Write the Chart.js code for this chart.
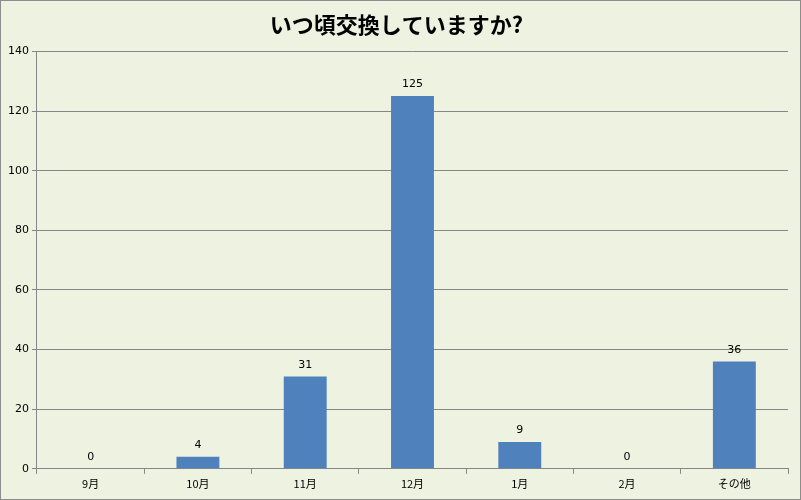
<!DOCTYPE html>
<html>
<head>
<meta charset="utf-8">
<script src="https://cdn.jsdelivr.net/npm/chart.js@4"></script>
<style>
  html, body { margin: 0; padding: 0; background: #fff; }
  #wrap { width: 799px; height: 498px; border: 1px solid #8c8c8c; background: #eef2e1; }
</style>
</head>
<body>
<div id="wrap"><canvas id="c" width="799" height="498"></canvas></div>
<script>
const categories = ["9月", "10月", "11月", "12月", "1月", "2月", "その他"];
const counts = [0, 4, 31, 125, 9, 0, 36];
const yTicks = [0, 20, 40, 60, 80, 100, 120, 140];

// value labels above each bar
const barLabels = {
  id: 'barLabels',
  afterDatasetsDraw(chart) {
    const ctx = chart.ctx;
    const meta = chart.getDatasetMeta(0);
    ctx.save();
    ctx.font = '11px "DejaVu Sans", sans-serif';
    ctx.fillStyle = '#000';
    ctx.textAlign = 'center';
    ctx.textBaseline = 'bottom';
    meta.data.forEach((bar, i) => {
      ctx.fillText(counts[i], bar.x, bar.y - 6);
    });
    ctx.restore();
  }
};

new Chart(document.getElementById('c').getContext('2d'), {
  type: 'bar',
  data: {
    labels: categories,
    datasets: [{
      data: counts,
      backgroundColor: '#4f81bd',
      categoryPercentage: 1,
      barPercentage: 0.4
    }]
  },
  options: {
    responsive: false,
    animation: false,
    layout: { padding: { left: 4, right: 12, top: 0, bottom: 6 } },
    plugins: {
      legend: { display: false },
      tooltip: { enabled: false },
      title: {
        display: true,
        text: 'いつ頃交換していますか?',
        color: '#000',
        font: { family: '"Noto Sans CJK JP", sans-serif', size: 22, weight: 'bold' },
        padding: { top: 10, bottom: 14 }
      }
    },
    scales: {
      x: {
        grid: { display: true, drawOnChartArea: false, color: '#868686', tickLength: 5, offset: true },
        border: { color: '#868686' },
        ticks: { color: '#000', font: { family: '"Noto Sans CJK JP", sans-serif', size: 11 } }
      },
      y: {
        min: 0, max: 140,
        afterBuildTicks: axis => { axis.ticks = yTicks.map(v => ({ value: v })); },
        grid: { color: '#868686', tickLength: 5 },
        border: { color: '#868686' },
        ticks: { color: '#000', font: { family: '"DejaVu Sans", sans-serif', size: 11 } }
      }
    }
  },
  plugins: [barLabels]
});
</script>
</body>
</html>
